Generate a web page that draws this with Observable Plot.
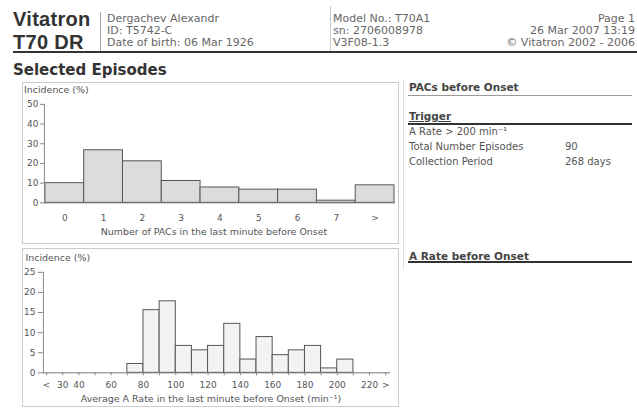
<!DOCTYPE html>
<html><head><meta charset="utf-8">
<script src="https://cdn.jsdelivr.net/npm/d3@7"></script>
<script src="https://cdn.jsdelivr.net/npm/@observablehq/plot@0.6"></script>
<style>
body{margin:0;background:#fff;width:637px;height:408px;position:relative;overflow:hidden;font-family:"DejaVu Sans",sans-serif;color:#555}
.a{position:absolute;white-space:nowrap;line-height:1}
.logo{font-family:"Liberation Sans",sans-serif;font-weight:bold;font-size:20px;color:#333;line-height:19px;letter-spacing:0.3px}
.sm{font-size:11px;color:#666}
.rp{font-size:10px;color:#555}
.rh{font-size:10.5px;font-weight:bold;color:#444}
.ln{position:absolute}
.box{position:absolute;border:1px solid #ccc;box-sizing:border-box}
.box svg{position:absolute;left:-1px;top:-1px;overflow:visible}
</style></head><body>
<div id="page"></div>
<script>
// ---- header / panel texts ----
const logoLines = ["Vitatron", "T70 DR"];
const patientLines = ["Dergachev Alexandr", "ID: T5742-C", "Date of birth: 06 Mar 1926"];
const deviceLines = ["Model No.: T70A1", "sn: 2706008978", "V3F08-1.3"];
const pageLines = ["Page 1", "26 Mar 2007 13:19", "© Vitatron 2002 - 2006"];
const sectionTitle = "Selected Episodes";
const pacPanelTitle = "PACs before Onset";
const triggerTitle = "Trigger";
const triggerRule = "A Rate > 200 min⁻¹";
const summaryLabels = ["Total Number Episodes", "Collection Period"];
const summaryValues = ["90", "268 days"];
const ratePanelTitle = "A Rate before Onset";

// ---- chart 1: PACs in last minute before onset ----
const pacCategories = ["0", "1", "2", "3", "4", "5", "6", "7", ">"];
const pacIncidence = [10.0, 26.7, 21.1, 11.1, 7.8, 6.7, 6.7, 1.1, 8.9];
const pacYTicks = [0, 10, 20, 30, 40, 50];
const pacYLabel = "Incidence (%)";
const pacXLabel = "Number of PACs in the last minute before Onset";

// ---- chart 2: average A rate in last minute before onset ----
const rateBinStarts = [70, 80, 90, 100, 110, 120, 130, 140, 150, 160, 170, 180, 190, 200];
const rateBinWidth = 10;
const rateIncidence = [2.2, 15.6, 17.8, 6.7, 5.6, 6.7, 12.2, 3.3, 8.9, 4.4, 5.6, 6.7, 1.1, 3.3];
const rateTickValues = [20, 30, 40, 60, 80, 100, 120, 140, 160, 180, 200, 220, 230];
const rateTickLabels = ["<", "30", "40", "60", "80", "100", "120", "140", "160", "180", "200", "220", ">"];
const rateMinorTicks = [20, 30, 40, 50, 60, 70, 80, 90, 100, 110, 120, 130, 140, 150, 160, 170, 180, 190, 200, 210, 220, 230];
const rateYTicks = [0, 5, 10, 15, 20, 25];
const rateYLabel = "Incidence (%)";
const rateXLabel = "Average A Rate in the last minute before Onset (min⁻¹)";

const page = document.getElementById("page");
function el(cls, style, text) {
  const d = document.createElement("div");
  d.className = cls;
  d.style.cssText = style;
  if (text != null) d.textContent = text;
  page.appendChild(d);
  return d;
}
// header
el("a logo", "left:13px;top:10px", logoLines[0]);
el("a logo", "left:13px;top:33px", logoLines[1]);
el("ln", "left:100px;top:12px;width:1px;height:39px;background:#aaa");
el("ln", "left:330px;top:6px;width:1px;height:45px;background:#ccc");
patientLines.forEach((t, i) => el("a sm", `left:107px;top:${13 + i * 12}px`, t));
deviceLines.forEach((t, i) => el("a sm", `left:333px;top:${13 + i * 12}px`, t));
pageLines.forEach((t, i) => el("a sm", `right:2px;top:${13 + i * 12}px;text-align:right`, t));
el("ln", "left:13px;top:51px;width:624px;height:2px;background:#333");
el("a", "left:13px;top:63px;font-weight:bold;font-size:15px;color:#333", sectionTitle);

// right panel
el("ln", "left:403px;top:80px;width:1px;height:190px;background:#e2e2e2");
el("a rh", "left:409px;top:82px", pacPanelTitle);
el("ln", "left:408px;top:95px;width:224px;height:1px;background:#999");
el("a rh", "left:409px;top:111px;text-decoration:underline", triggerTitle);
el("ln", "left:408px;top:123px;width:224px;height:2px;background:#333");
el("a rp", "left:409px;top:127px", triggerRule);
summaryLabels.forEach((t, i) => {
  el("a rp", `left:409px;top:${142 + i * 15}px`, t);
  el("a rp", `left:565px;top:${142 + i * 15}px`, summaryValues[i]);
});
el("a rh", "left:409px;top:251px;text-decoration:underline", ratePanelTitle);
el("ln", "left:408px;top:261px;width:224px;height:2px;background:#333");

// chart boxes
const box1 = el("box", "left:22px;top:82px;width:377px;height:162px");
const box2 = el("box", "left:22px;top:248px;width:377px;height:159px");

const axisStyle = {fontFamily: "DejaVu Sans", fontSize: "9px", color: "#555", background: "transparent", overflow: "visible"};

const pacData = pacCategories.map((c, i) => ({cat: c, pct: pacIncidence[i]}));
const chart1 = Plot.plot({
  width: 377, height: 162,
  marginLeft: 22, marginRight: 2, marginTop: 22, marginBottom: 41,
  style: axisStyle,
  x: {type: "band", domain: pacCategories, padding: 0, axis: null},
  y: {domain: [0, 50], axis: null},
  marks: [
    Plot.barY(pacData, {x: "cat", y: "pct", fill: "#dcdcdc", stroke: "#555", strokeWidth: 1}),
    Plot.ruleY([0], {stroke: "#777"}),
    Plot.frame({anchor: "left", stroke: "#888"}),
    Plot.axisY({ticks: pacYTicks, tickSize: 4, tickPadding: 2, label: null, stroke: "#888"}),
    Plot.axisX({tickSize: 0, tickPadding: 12, label: null}),
    Plot.text([pacYLabel], {frameAnchor: "top-left", textAnchor: "start", lineAnchor: "middle", dx: -20.5, dy: -14, fontSize: 9.5, fill: "#555"}),
    Plot.text([pacXLabel], {frameAnchor: "bottom", lineAnchor: "middle", dx: -6, dy: 29, fontSize: 9.5, fill: "#555"})
  ]
});
box1.appendChild(chart1);

const rateData = rateBinStarts.map((s, i) => ({x1: s, x2: s + rateBinWidth, pct: rateIncidence[i]}));
const chart2 = Plot.plot({
  width: 377, height: 159,
  marginLeft: 21, marginRight: 7, marginTop: 24, marginBottom: 34,
  style: axisStyle,
  x: {domain: [18, 233], axis: null},
  y: {domain: [0, 25], axis: null},
  marks: [
    Plot.rectY(rateData, {x1: "x1", x2: "x2", y: "pct", fill: "#f3f3f3", stroke: "#555", strokeWidth: 1}),
    Plot.ruleY([0], {stroke: "#777"}),
    Plot.frame({anchor: "left", stroke: "#888"}),
    Plot.axisY({ticks: rateYTicks, tickSize: 5, tickPadding: 3, label: null, stroke: "#888"}),
    Plot.axisX({ticks: rateMinorTicks, tickSize: 3, tickFormat: () => "", label: null, stroke: "#888"}),
    Plot.axisX({ticks: rateTickValues, tickSize: 0, tickPadding: 9, tickFormat: d => rateTickLabels[rateTickValues.indexOf(d)], label: null}),
    Plot.text([rateYLabel], {frameAnchor: "top-left", textAnchor: "start", lineAnchor: "middle", dx: -18, dy: -14, fontSize: 9.5, fill: "#555"}),
    Plot.text([rateXLabel], {frameAnchor: "bottom", lineAnchor: "middle", dx: -6, dy: 26, fontSize: 9.5, fill: "#555"})
  ]
});
box2.appendChild(chart2);
</script>
</body></html>
